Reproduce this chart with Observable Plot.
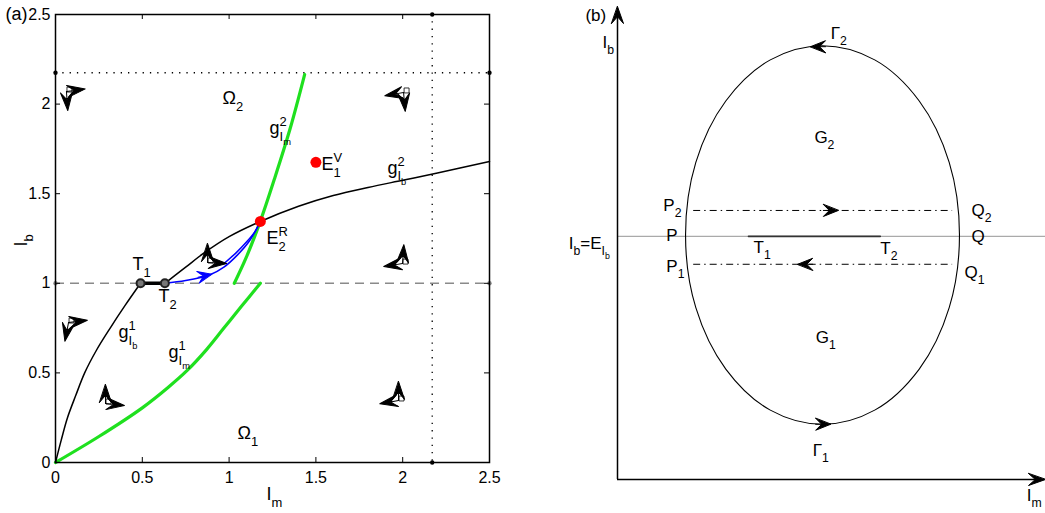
<!DOCTYPE html>
<html><head><meta charset="utf-8">
<script src="https://cdn.jsdelivr.net/npm/d3@7"></script>
<script src="https://cdn.jsdelivr.net/npm/@observablehq/plot@0.6"></script>
<style>
body{margin:0;background:#fff;}
#wrap{position:relative;width:1045px;height:513px;overflow:hidden;background:#fff;}
#pa{position:absolute;left:0;top:0;}
#pb{position:absolute;left:545px;top:0;}
</style></head><body><div id="wrap"><div id="pa"></div><div id="pb"></div></div>
<script>
// ================= Panel (a) data =================
const ticksA = [0, 0.5, 1, 1.5, 2, 2.5];
const dottedY = 2.175;           // horizontal dotted line level
const dottedX = 2.17;            // vertical dotted line position
const dashedY = 1;               // grey dashed line level
const gIb1 = [[0,0],[0.033,0.125],[0.069,0.25],[0.117,0.375],[0.168,0.5],[0.235,0.625],[0.315,0.75],[0.4,0.875],[0.49,1.0]];
const gIb2 = [[0.63,1.0],[0.75,1.09],[0.85,1.165],[1.0,1.26],[1.18,1.345],[1.4,1.43],[1.6,1.49],[1.8,1.535],[2.0,1.575],[2.2,1.615],[2.5,1.68]];
const segT = [[0.49,1.0],[0.63,1.0]];
const gIm1 = [[0,0],[0.25,0.145],[0.5,0.305],[0.65,0.42],[0.76,0.515],[0.87,0.63],[0.97,0.75],[1.07,0.87],[1.18,1.0]];
const gIm2 = [[1.03,1.0],[1.1,1.147],[1.18,1.347],[1.26,1.579],[1.35,1.858],[1.435,2.165]];
const blue1 = [[0.63,1.0],[0.75,1.015],[0.893,1.049],[0.97,1.09],[1.05,1.16],[1.12,1.24],[1.18,1.345]];
const blue2 = [[0.97,1.11],[1.04,1.17],[1.1,1.23],[1.15,1.29],[1.18,1.345]];
const pointsT = [[0.49,1.0],[0.63,1.0]];
const pointsE = [[1.18,1.345],[1.5,1.675]];
const dirX = [0.063, 2.005, 0.075, 0.288, 0.876, 1.999, 1.976];
const dirY = [2.07, 2.065, 0.781, 0.329, 1.116, 1.11, 0.346];
const dirAngH = [82, 260, 83, 96, 93, 261, 260];
const dirAngV = [176, 175, 191, 0, 0, 4, 0];
const blueHead = [{x:0.9, y:1.05, a:78}];
const labelsA = [
  {x:-0.288, y:2.5, t:"(a)"},
  {x:0.962, y:2.031, t:"Ω_{2}"},
  {x:1.048, y:0.162, t:"Ω_{1}"},
  {x:1.233, y:1.864, t:"g^{2}_{I_{m}}"},
  {x:1.532, y:1.663, t:"E^{V}_{1}"},
  {x:1.912, y:1.641, t:"g^{2}_{I_{b}}"},
  {x:1.215, y:1.25, t:"E^{R}_{2}"},
  {x:0.444, y:1.105, t:"T_{1}"},
  {x:0.593, y:0.926, t:"T_{2}"},
  {x:0.363, y:0.725, t:"g^{1}_{I_{b}}"},
  {x:0.651, y:0.614, t:"g^{1}_{I_{m}}"},
  {x:1.215, y:-0.179, t:"I_{m}"}
];
const ylabelA = [{x:-0.2, y:1.24, t:"I_{b}"}];

// ================= Panel (b) data =================
const ibLevel = 5.15;
const segTb = [[3.06,5.15],[6.14,5.15]];
const upperY = 5.70, lowerY = 4.56, dashX1 = 1.78, dashX2 = 7.83;
const ellipse = [[7.99,5.18],[7.75,6.72],[7.05,8.02],[6.01,8.89],[4.79,9.19],[3.57,8.89],[2.53,8.02],[1.83,6.72],
  [1.59,5.18],[1.83,3.64],[2.53,2.34],[3.57,1.47],[4.79,1.17],[6.01,1.47],[7.05,2.34],[7.75,3.64]];
const axisHeads = [{x:0, y:10.02, a:0}, {x:10, y:0, a:90}];
const flowHeads = [{x:5.16, y:5.70, a:90}, {x:4.21, y:4.56, a:270}, {x:4.51, y:9.17, a:270}, {x:4.98, y:1.17, a:90}];
const labelsB = [
  {x:-0.75, y:9.83, t:"(b)"},
  {x:-0.35, y:9.26, t:"I_{b}"},
  {x:4.98, y:9.45, t:"Γ_{2}"},
  {x:4.60, y:7.25, t:"G_{2}"},
  {x:1.07, y:5.81, t:"P_{2}"},
  {x:1.14, y:5.17, t:"P"},
  {x:8.27, y:5.70, t:"Q_{2}"},
  {x:8.27, y:5.15, t:"Q"},
  {x:3.18, y:4.92, t:"T_{1}"},
  {x:6.14, y:4.89, t:"T_{2}"},
  {x:-1.14, y:5.0, t:"I_{b}=E_{I_{b}}"},
  {x:1.14, y:4.51, t:"P_{1}"},
  {x:8.11, y:4.39, t:"Q_{1}"},
  {x:4.63, y:3.01, t:"G_{1}"},
  {x:4.56, y:0.61, t:"Γ_{1}"},
  {x:9.56, y:-0.34, t:"I_{m}"}
];

// ================= helpers =================
const FONT = "Liberation Sans, Arial, Helvetica, sans-serif";
const dart = {
  draw(ctx, l) {
    const hl = Math.min(l, 18), hw = 6;
    ctx.moveTo(0, 0);
    ctx.lineTo(0, -l + hl * 0.6);
    ctx.moveTo(0, -l);
    ctx.lineTo(hw, -l + hl);
    ctx.lineTo(0, -l + hl * 0.6);
    ctx.lineTo(-hw, -l + hl);
    ctx.closePath();
  }
};

function parse(s) {
  let i = 0;
  function seq(stop) {
    const groups = []; let cur = null;
    while (i < s.length) {
      const c = s[i];
      if (c === "}" && stop) { i++; break; }
      if (c === "^" || c === "_") {
        i++;
        let content;
        if (s[i] === "{") { i++; content = seq(true); } else { content = [{base: s[i++]}]; }
        if (!cur) { cur = {base: ""}; groups.push(cur); }
        if (c === "^") cur.sup = content.map(g => g.base).join(""); else cur.sub = content;
      } else {
        if (!cur || cur.sup || cur.sub) { cur = {base: ""}; groups.push(cur); }
        cur.base += c; i++;
      }
    }
    return groups;
  }
  return seq(false);
}
function addSpan(t, text, fs, y, st) {
  const sp = document.createElementNS("http://www.w3.org/2000/svg", "tspan");
  sp.textContent = text;
  sp.setAttribute("font-size", fs);
  const dy = y - st.y;
  if (dy) sp.setAttribute("dy", dy);
  if (st.dx) sp.setAttribute("dx", st.dx);
  st.dx = 0; st.y = y;
  t.appendChild(sp);
  return sp.getComputedTextLength();
}
function render(t, groups, fs, y, st) {
  let width = 0;
  for (const g of groups) {
    let w = 0;
    if (g.base) w += addSpan(t, g.base, fs, y, st);
    let supW = 0, subW = 0;
    if (g.sup) supW = addSpan(t, g.sup, fs * 0.72, y - fs * 0.45, st);
    if (g.sub) { st.dx += -supW; subW = render(t, g.sub, fs * 0.72, y + fs * 0.35, st); }
    if (g.sub && supW > subW) st.dx += supW - subW;
    w += Math.max(supW, subW);
    width += w;
  }
  return width;
}
function richify(svg) {
  svg.querySelectorAll("text").forEach(t => {
    const s = t.textContent;
    if (!/[\^_]/.test(s)) return;
    const fs = parseFloat(getComputedStyle(t).fontSize);
    while (t.firstChild) t.removeChild(t.firstChild);
    render(t, parse(s), fs, 0, {y: 0, dx: 0});
  });
}

// ================= Panel (a) =================
const dirArrows = dirX.flatMap((x, i) => [{x, y: dirY[i], a: dirAngH[i]}, {x, y: dirY[i], a: dirAngV[i]}]);
const dirCorners = dirX.map((x, i) => ({x, y: dirY[i]}));
const dotEndsBlack = [[0, dottedY], [2.5, dottedY], [dottedX, 0], [dottedX, 2.5]];
const dotEndsGrey = [[0, dashedY], [2.5, dashedY]];

const pa = Plot.plot({
  width: 520, height: 513,
  marginLeft: 55, marginRight: 31, marginTop: 14, marginBottom: 51,
  style: {fontFamily: FONT, fontSize: "16px", background: "white", overflow: "visible", color: "black"},
  x: {domain: [0, 2.5], ticks: ticksA, tickSize: 0, tickPadding: 9, tickFormat: d => String(d), label: null},
  y: {domain: [0, 2.5], ticks: ticksA, tickSize: 0, tickPadding: 5, tickFormat: d => String(d), label: null},
  marks: [
    Plot.ruleY([dottedY], {stroke: "black", strokeDasharray: "1.3,6", strokeWidth: 1.3}),
    Plot.ruleX([dottedX], {stroke: "black", strokeDasharray: "1.3,6", strokeWidth: 1.3}),
    Plot.ruleY([dashedY], {stroke: "#8a8a8a", strokeDasharray: "9,6", strokeWidth: 1.6}),
    Plot.dot(dotEndsBlack, {x: d => d[0], y: d => d[1], r: 2.2, fill: "black"}),
    Plot.dot(dotEndsGrey, {x: d => d[0], y: d => d[1], r: 2.2, fill: "#8a8a8a"}),
    Plot.line(gIm1, {x: d => d[0], y: d => d[1], stroke: "#1fe01f", strokeWidth: 3.2, curve: "catmull-rom"}),
    Plot.line(gIm2, {x: d => d[0], y: d => d[1], stroke: "#1fe01f", strokeWidth: 3.2, curve: "catmull-rom"}),
    Plot.line(gIb1, {x: d => d[0], y: d => d[1], stroke: "black", strokeWidth: 1.5, curve: "catmull-rom"}),
    Plot.line(gIb2, {x: d => d[0], y: d => d[1], stroke: "black", strokeWidth: 1.5, curve: "catmull-rom"}),
    Plot.line(blue1, {x: d => d[0], y: d => d[1], stroke: "#0000ff", strokeWidth: 1.5, curve: "catmull-rom"}),
    Plot.line(blue2, {x: d => d[0], y: d => d[1], stroke: "#0000ff", strokeWidth: 1.5, curve: "catmull-rom"}),
    Plot.line(segT, {x: d => d[0], y: d => d[1], stroke: "black", strokeWidth: 3.5}),
    Plot.dot(pointsT, {x: d => d[0], y: d => d[1], r: 4, stroke: "#222", strokeWidth: 2, fill: "#777"}),
    Plot.dot(pointsE, {x: d => d[0], y: d => d[1], r: 5.5, fill: "#ff0000"}),
    Plot.vector(blueHead, {x: "x", y: "y", rotate: "a", length: 14, anchor: "end", shape: dart, stroke: "#0000ff", fill: "#0000ff", strokeWidth: 1}),
    Plot.dot(dirCorners, {x: "x", y: "y", symbol: "square", r: 2.8, stroke: "black", strokeWidth: 0.8, fill: "white", dx: 3, dy: -2}),
    Plot.vector(dirArrows, {x: "x", y: "y", rotate: "a", length: 19, anchor: "start", shape: dart, stroke: "black", fill: "black", strokeWidth: 1}),
    Plot.tickX(ticksA, {x: d => d, insetTop: 443, stroke: "black"}),
    Plot.tickX(ticksA, {x: d => d, insetBottom: 443, stroke: "black"}),
    Plot.tickY(ticksA, {y: d => d, insetRight: 429, stroke: "black"}),
    Plot.tickY(ticksA, {y: d => d, insetLeft: 429, stroke: "black"}),
    Plot.frame({stroke: "black", strokeWidth: 1.5}),
    Plot.text(labelsA, {x: "x", y: "y", text: "t", textAnchor: "start", fontSize: 18, fill: "black"}),
    Plot.text(ylabelA, {x: "x", y: "y", text: "t", textAnchor: "middle", rotate: -90, fontSize: 18, fill: "black"})
  ]
});
document.getElementById("pa").appendChild(pa);

// ================= Panel (b) =================
const pb = Plot.plot({
  width: 500, height: 513,
  marginLeft: 72, marginRight: 0, marginTop: 7, marginBottom: 34,
  style: {fontFamily: FONT, fontSize: "17px", background: "white", overflow: "visible", color: "black"},
  x: {domain: [0, 10], axis: null},
  y: {domain: [0, 10], axis: null},
  marks: [
    Plot.ruleY([ibLevel], {stroke: "#aaaaaa", strokeWidth: 1.3}),
    Plot.line(segTb, {x: d => d[0], y: d => d[1], stroke: "#333", strokeWidth: 1.6}),
    Plot.ruleY([upperY, lowerY], {x1: dashX1, x2: dashX2, stroke: "black", strokeDasharray: "7,4,1.5,4", strokeWidth: 1}),
    Plot.line(ellipse, {x: d => d[0], y: d => d[1], curve: "catmull-rom-closed", stroke: "black", strokeWidth: 1.1}),
    Plot.ruleX([0], {y1: 0, y2: 9.8, stroke: "black", strokeWidth: 1.5}),
    Plot.ruleY([0], {x1: 0, x2: 9.8, stroke: "black", strokeWidth: 1.5}),
    Plot.vector(axisHeads, {x: "x", y: "y", rotate: "a", length: 17, anchor: "end", shape: dart, stroke: "black", fill: "black", strokeWidth: 1}),
    Plot.vector(flowHeads, {x: "x", y: "y", rotate: "a", length: 15, anchor: "end", shape: dart, stroke: "black", fill: "black", strokeWidth: 1}),
    Plot.text(labelsB, {x: "x", y: "y", text: "t", textAnchor: "start", fontSize: 17, fill: "black"})
  ]
});
document.getElementById("pb").appendChild(pb);

richify(pa);
richify(pb);
</script>
</body></html>
